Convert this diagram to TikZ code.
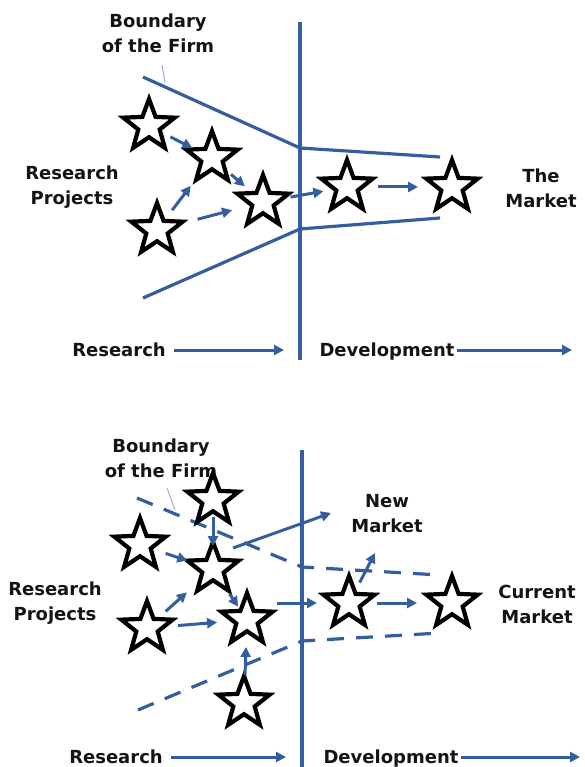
\documentclass[tikz,border=0pt]{standalone}
\usepackage{fontspec}
\setmainfont{DejaVu Sans}
\usetikzlibrary{shapes.geometric,arrows.meta}
\definecolor{flowblue}{RGB}{52,94,160}
\definecolor{calloutblue}{RGB}{150,178,220}

\begin{document}
\begin{tikzpicture}[x=1pt,y=-1pt,
  project/.style={star, star points=5, star point ratio=2.4, minimum size=54pt,
    inner sep=0pt, draw=black, line width=4.2pt, fill=white},
  txt/.style={font=\fontsize{18}{25}\selectfont\bfseries, align=center, text=black!92, inner sep=2pt},
  wall/.style={draw=flowblue, line width=3.2pt},
  fence/.style={draw=flowblue, line width=3.2pt},
  dashfence/.style={fence, dash pattern=on 17pt off 12pt},
  flow/.style={draw=flowblue, line width=3pt, -{Triangle[length=10pt,width=10pt]}},
  callout/.style={draw=calloutblue, line width=1pt}]
\useasboundingbox (0,0) rectangle (585,767);

% closed funnel
\draw[wall] (300,22) -- (300,360);
\draw[fence] (143,77) -- (300,148) -- (440,157);
\draw[fence] (143,298) -- (300,229) -- (440,218);

\node[txt] (firm1) at (158,33) {Boundary\\of the Firm};
\node[txt] (proj1) at (72,187) {Research\\Projects};
\node[txt] (mkt1) at (541,188) {The\\Market};
\node[txt] (res1) at (119,350) {Research};
\node[txt] (dev1) at (387,352) {Development};
\coordinate (c1a) at (162,65);
\coordinate (c1b) at (165,83);
\draw[callout] (c1a) -- (c1b);

\node[project] (a1) at (149,126) {};
\node[project] (a2) at (212,158) {};
\node[project] (a3) at (263,202) {};
\node[project] (a4) at (157,230) {};
\node[project] (a5) at (347,187) {};
\node[project] (a6) at (452,187) {};

\draw[flow, shorten <=24pt, shorten >=22pt] (a1.center) -- (a2.center);
\draw[flow, shorten <=25pt, shorten >=24pt] (a2.center) -- (a3.center);
\draw[flow, shorten <=25pt, shorten >=35pt] (a4.center) -- (a2.center);
\draw[flow, shorten <=42pt, shorten >=32pt] (a4.center) -- (a3.center);
\draw[flow, shorten <=28pt, shorten >=24pt] (a3.center) -- (a5.center);
\draw[flow, shorten <=31pt, shorten >=34pt] (a5.center) -- (a6.center);

\coordinate (r1) at (284,350);
\coordinate (d1) at (572,350);
\draw[flow, shorten <=6pt] (res1.east) -- (r1);
\draw[flow] (dev1.east |- d1) -- (d1);

% open funnel
\draw[wall] (302,450) -- (302,767);
\draw[dashfence] (137,498) -- (302,567) -- (440,575);
\draw[dashfence] (138,710) -- (302,641) -- (440,633);

\node[txt] (firm2) at (161,458) {Boundary\\of the Firm};
\node[txt] (proj2) at (55,603) {Research\\Projects};
\node[txt] (nmkt) at (387,514) {New\\Market};
\node[txt] (cmkt) at (537,604) {Current\\Market};
\node[txt] (res2) at (116,757) {Research};
\node[txt] (dev2) at (391,759) {Development};
\coordinate (c2a) at (167,488);
\coordinate (c2b) at (175,510);
\draw[callout] (c2a) -- (c2b);

\node[project] (b1) at (213,500) {};
\node[project] (b2) at (140,545) {};
\node[project] (b3) at (213,569) {};
\node[project] (b4) at (247,620) {};
\node[project] (b5) at (147,628) {};
\node[project] (b6) at (244,703) {};
\node[project] (b7) at (349,603) {};
\node[project] (b8) at (452,603) {};

\coordinate (n1) at (331,513);
\coordinate (n2) at (375,553);
\draw[flow, shorten <=17pt, shorten >=23pt] (b1.center) -- (b3.center);
\draw[flow, shorten <=27pt, shorten >=27pt] (b2.center) -- (b3.center);
\draw[flow, shorten <=30pt, shorten >=16pt] (b3.center) -- (b4.center);
\draw[flow, shorten <=25pt, shorten >=35pt] (b5.center) -- (b3.center);
\draw[flow, shorten <=31pt, shorten >=30pt] (b5.center) -- (b4.center);
\draw[flow, shorten <=28pt, shorten >=27pt] (b6.center) -- (b4.center);
\draw[flow] ([shift={(20,-21)}]b3.center) -- (n1);
\draw[flow, shorten >=32pt] ([shift={(30,-17)}]b4.center) -- (b7.center);
\draw[flow, shorten <=28pt, shorten >=35pt] (b7.center) -- (b8.center);
\draw[flow, shorten <=23pt] (b7.center) -- (n2);

\coordinate (r2) at (286,757);
\coordinate (d2) at (580,757);
\draw[flow, shorten <=6pt] (res2.east) -- (r2);
\draw[flow] (dev2.east |- d2) -- (d2);
\end{tikzpicture}
\end{document}
